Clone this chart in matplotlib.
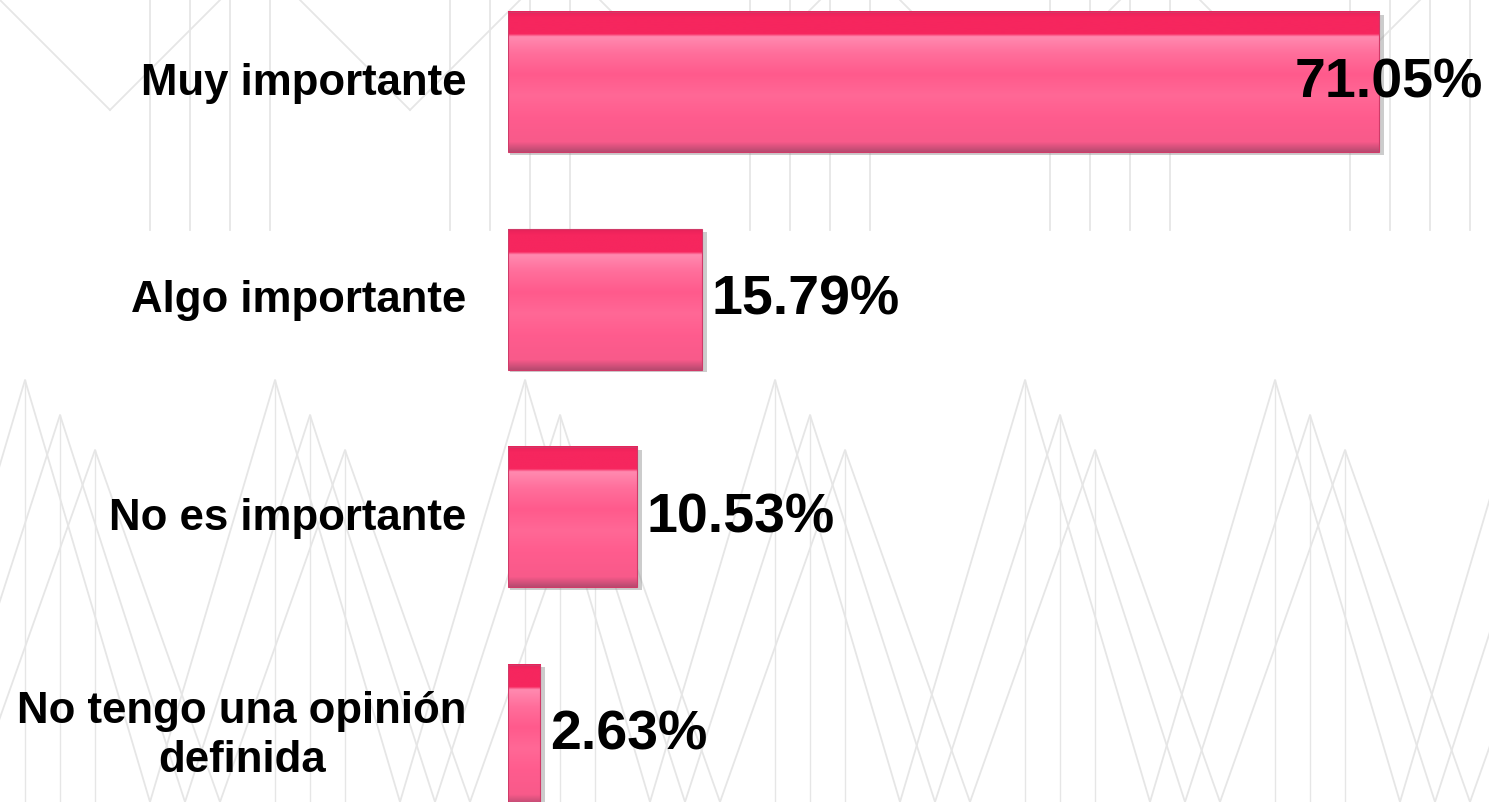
import numpy as np
import matplotlib.pyplot as plt
from matplotlib.colors import to_rgb

categories = ['Muy importante', 'Algo importante', 'No es importante',
              'No tengo una opinión\ndefinida']
values = [71.05, 15.79, 10.53, 2.63]
value_labels = ['71.05%', '15.79%', '10.53%', '2.63%']

plt.rcParams['font.family'] = ['Liberation Sans', 'DejaVu Sans']

fig = plt.figure(figsize=(14.89, 8.02), dpi=100, facecolor='white')

# faint background pattern (decoration only)
bg = fig.add_axes([0, 0, 1, 1], zorder=0)
bg.set_xlim(0, 1489)
bg.set_ylim(802, 0)
bg.axis('off')
lc = '#e6e6e6'
for x0 in range(0, 1489, 300):
    for dx in (0, 40, 80, 120):
        bg.plot([x0 + 150 + dx, x0 + 150 + dx], [0, 230], color=lc, lw=1.3)
    bg.plot([x0, x0 + 110], [0, 110], color=lc, lw=1.3)
    bg.plot([x0 + 110, x0 + 220], [110, 0], color=lc, lw=1.3)
for x0 in range(-100, 1600, 250):
    for k in range(3):
        off = k * 35
        bg.plot([x0 + off, x0 + 125 + off, x0 + 250 + off],
                [802, 380 + off, 802], color=lc, lw=1.3)
        bg.plot([x0 + 125 + off, x0 + 125 + off], [380 + off, 802],
                color=lc, lw=1.0)

ax = fig.add_axes([508 / 1489, 0, (1489 - 508) / 1489, 1], zorder=1)
ax.patch.set_alpha(0)
ax.set_xlim(0, 80)
ax.set_ylim(3.31, -0.377)
ax.axis('off')

# vertical gradient for the glossy bar look (top -> bottom)
stops = [(0.00, '#e8225a'), (0.04, '#f6265e'), (0.16, '#f6265e'),
         (0.18, '#ff8ab0'), (0.30, '#ff6e9b'), (0.45, '#ff5a8c'),
         (0.60, '#ff6896'), (0.75, '#ff5c8e'), (0.93, '#f85a8a'),
         (1.00, '#b84a70')]
pos = np.array([s[0] for s in stops])
cols = np.array([to_rgb(s[1]) for s in stops])
rows = np.linspace(0, 1, 200)
grad = np.stack([np.interp(rows, pos, cols[:, c]) for c in range(3)], axis=1)
grad = grad[:, None, :]

h = 0.644
ys = np.arange(len(values))
for y, v, lab in zip(ys, values, value_labels):
    # drop shadow
    ax.barh(y + 0.012, v + 0.25, height=h, left=0.15, color='#9a9a9a',
            alpha=0.5, zorder=1)
    ax.imshow(grad, extent=(0, v, y + h / 2, y - h / 2), aspect='auto',
              interpolation='bilinear', zorder=2)
    ax.barh(y, v, height=h, fill=False, edgecolor='#d03a68', lw=0.8, zorder=3)

for y, v, lab in zip(ys, values, value_labels):
    if v > 60:
        ax.annotate(lab, (80, y), xytext=(-4, -1), textcoords='offset points',
                    ha='right', va='center', fontsize=40, fontweight='bold',
                    zorder=5)
    else:
        ax.annotate(lab, (v, y), xytext=(7, -1), textcoords='offset points',
                    ha='left', va='center', fontsize=40, fontweight='bold',
                    zorder=5)

for y, cat in zip(ys, categories):
    ax.annotate(cat, (0, y), xytext=(-30, -1), textcoords='offset points',
                ha='right', va='center', fontsize=31.5, fontweight='bold',
                multialignment='center', linespacing=1.25, zorder=5,
                annotation_clip=False)

fig.savefig('out.png', dpi=100, facecolor='white')
